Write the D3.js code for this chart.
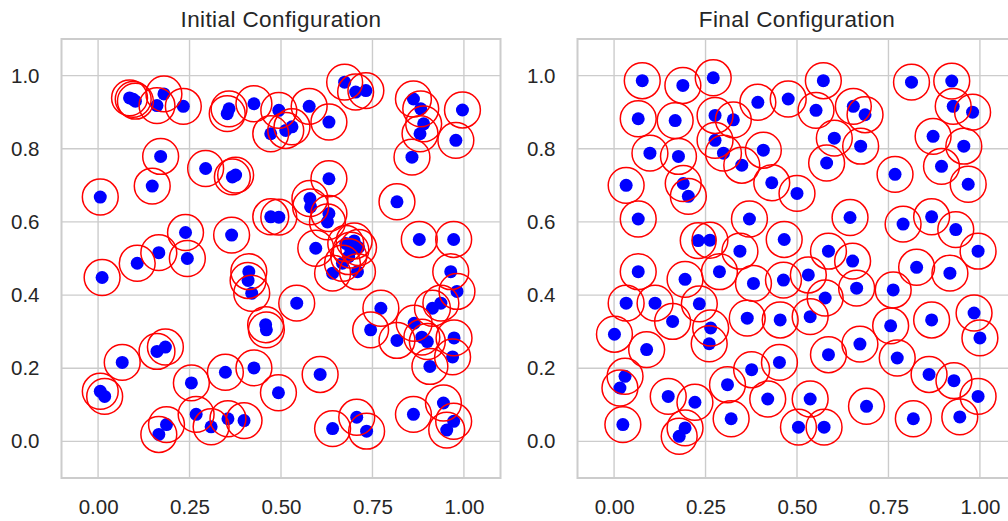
<!DOCTYPE html>
<html>
<head>
<meta charset="utf-8">
<script src="https://cdn.jsdelivr.net/npm/d3@7"></script>
<style>
  body { margin: 0; background: #fff; }
  text { font-family: "Liberation Sans", Arial, sans-serif; fill: #262626; }
</style>
</head>
<body>
<div id="chart"></div>
<script>
var width = 1008;
var height = 521;

// tick labels
var xTicks = [0, 0.25, 0.5, 0.75, 1.0]
var yTicks = [0, 0.2, 0.4, 0.6, 0.8, 1.0]
var titles = ["Initial Configuration", "Final Configuration"]

// particle positions
var initialX = [0.086,0.102,0.161,0.180,0.233,0.358,0.353,0.426,0.494,0.472,0.513,0.530,0.577,0.631,0.674,0.704,0.732,0.862,0.882,0.890,
  0.880,0.858,0.996,0.978,0.171,0.148,0.294,0.376,0.367,0.006,0.472,0.494,0.239,0.365,0.631,0.579,0.581,0.631,0.627,0.817,
  0.878,0.972,0.595,0.677,0.691,0.685,0.668,0.641,0.709,0.166,0.107,0.244,0.011,0.412,0.410,0.420,0.458,0.460,0.543,0.773,
  0.745,0.817,0.864,0.900,0.914,0.937,0.964,0.981,0.973,0.969,0.907,0.493,0.607,0.161,0.184,0.066,0.006,0.018,0.255,0.348,
  0.426,0.268,0.309,0.355,0.399,0.187,0.166,0.641,0.707,0.734,0.862,0.944,0.972,0.953,0.700,0.712,0.885,0.096]
var initialY = [0.939,0.930,0.918,0.950,0.916,0.909,0.896,0.923,0.905,0.841,0.850,0.860,0.916,0.873,0.982,0.955,0.959,0.936,0.909,0.868,
  0.841,0.777,0.906,0.823,0.779,0.698,0.746,0.728,0.723,0.668,0.614,0.613,0.571,0.564,0.718,0.664,0.641,0.623,0.600,0.655,
  0.552,0.552,0.528,0.541,0.523,0.505,0.487,0.460,0.464,0.516,0.487,0.500,0.448,0.464,0.440,0.405,0.319,0.305,0.378,0.364,
  0.305,0.276,0.323,0.273,0.364,0.378,0.464,0.410,0.283,0.231,0.205,0.133,0.183,0.246,0.258,0.216,0.137,0.123,0.160,0.189,
  0.201,0.074,0.040,0.062,0.057,0.046,0.019,0.035,0.066,0.028,0.074,0.105,0.055,0.031,0.548,0.530,0.285,0.935]

var finalX = [0.077,0.188,0.271,0.066,0.167,0.276,0.326,0.393,0.476,0.098,0.176,0.276,0.299,0.349,0.408,0.033,0.189,0.203,0.431,0.500,
  0.066,0.370,0.230,0.262,0.344,0.465,0.572,0.552,0.654,0.686,0.602,0.674,0.581,0.813,0.923,0.927,0.980,0.872,0.956,0.768,
  0.895,0.968,0.645,0.790,0.868,0.934,0.995,0.586,0.652,0.066,0.194,0.288,0.381,0.463,0.033,0.112,0.233,0.160,0.264,0.260,
  0.001,0.089,0.364,0.454,0.376,0.452,0.030,0.016,0.310,0.148,0.221,0.420,0.320,0.024,0.194,0.178,0.827,0.918,0.531,
  0.663,0.577,0.763,0.536,0.756,0.868,0.984,1.000,0.586,0.672,0.774,0.861,0.929,0.995,0.536,0.690,0.818,0.945,0.504,0.574]
var finalY = [0.986,0.973,0.994,0.882,0.877,0.891,0.879,0.927,0.936,0.788,0.779,0.823,0.788,0.755,0.796,0.700,0.705,0.670,0.707,0.678,
  0.608,0.608,0.549,0.550,0.520,0.552,0.986,0.905,0.916,0.893,0.829,0.807,0.761,0.982,0.985,0.916,0.900,0.834,0.807,0.730,
  0.752,0.703,0.612,0.594,0.614,0.579,0.520,0.520,0.493,0.464,0.443,0.464,0.432,0.441,0.378,0.378,0.376,0.328,0.310,0.267,
  0.293,0.251,0.337,0.332,0.196,0.216,0.178,0.146,0.155,0.123,0.107,0.116,0.062,0.046,0.037,0.014,0.476,0.460,0.455,
  0.419,0.392,0.414,0.341,0.316,0.332,0.351,0.283,0.237,0.266,0.228,0.183,0.166,0.123,0.116,0.096,0.062,0.067,0.039,0.039]

var particleRadius = 0.049

var svg = d3.select("#chart").append("svg")
  .attr("width", width)
  .attr("height", height)

var panels = [
  {left: 61.5, title: titles[0], xs: initialX, ys: initialY},
  {left: 577.5, title: titles[1], xs: finalX, ys: finalY}
]

var plotW = 439
var plotTop = 39, plotBottom = 478

panels.forEach(function(p, k) {
  var x = d3.scaleLinear().domain([-0.1, 1.1]).range([p.left, p.left + plotW])
  var y = d3.scaleLinear().domain([-0.1, 1.1]).range([plotBottom, plotTop])

  var g = svg.append("g")
  var clipId = "clip" + k
  g.append("clipPath").attr("id", clipId)
    .append("rect")
    .attr("x", p.left).attr("y", plotTop)
    .attr("width", plotW).attr("height", plotBottom - plotTop)

  // grid
  g.selectAll(".vgrid").data(xTicks).enter().append("line")
    .attr("x1", d => x(d)).attr("x2", d => x(d))
    .attr("y1", plotTop).attr("y2", plotBottom)
    .attr("stroke", "#cccccc").attr("stroke-width", 1.4)
  g.selectAll(".hgrid").data(yTicks).enter().append("line")
    .attr("y1", d => y(d)).attr("y2", d => y(d))
    .attr("x1", p.left).attr("x2", p.left + plotW)
    .attr("stroke", "#cccccc").attr("stroke-width", 1.4)

  // axes via d3 (labels only)
  var xAxis = g.append("g")
    .attr("transform", "translate(0," + plotBottom + ")")
    .call(d3.axisBottom(x).tickValues(xTicks).tickFormat(d3.format(".2f")).tickSize(0).tickPadding(21))
  var yAxis = g.append("g")
    .attr("transform", "translate(" + p.left + ",0)")
    .call(d3.axisLeft(y).tickValues(yTicks).tickFormat(d3.format(".1f")).tickSize(0).tickPadding(22))
  ;[xAxis, yAxis].forEach(function(a) {
    a.select(".domain").remove()
    a.selectAll("text")
      .style("font-family", "'Liberation Sans', Arial, sans-serif")
      .style("font-size", "20.5px")
      .attr("fill", "#303030")
  })

  var marks = g.append("g").attr("clip-path", "url(#" + clipId + ")")
  var pts = p.xs.map((v, i) => ({x: v, y: p.ys[i]}))

  marks.selectAll(".dot").data(pts).enter().append("circle")
    .attr("cx", d => x(d.x)).attr("cy", d => y(d.y))
    .attr("r", 6.5)
    .attr("fill", "blue")

  marks.selectAll(".ring").data(pts).enter().append("circle")
    .attr("cx", d => x(d.x)).attr("cy", d => y(d.y))
    .attr("r", x(particleRadius) - x(0))
    .attr("fill", "none")
    .attr("stroke", "red")
    .attr("stroke-width", 1.5)

  // frame
  g.append("rect")
    .attr("x", p.left).attr("y", plotTop)
    .attr("width", plotW).attr("height", plotBottom - plotTop)
    .attr("fill", "none")
    .attr("stroke", "#cccccc").attr("stroke-width", 2)

  g.append("text")
    .attr("x", p.left + plotW / 2).attr("y", 26.5)
    .attr("text-anchor", "middle")
    .style("font-size", "22.5px")
    .style("letter-spacing", "0.4px")
    .attr("fill", "#303030")
    .text(p.title)
})
</script>
</body>
</html>
